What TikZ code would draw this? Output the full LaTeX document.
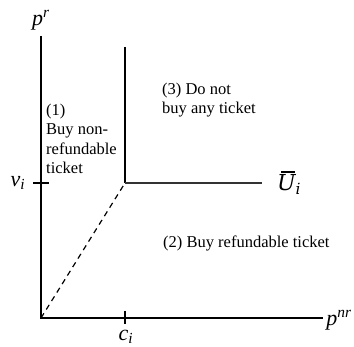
\documentclass[tikz,border=0pt]{standalone}
\usepackage{fontspec}
\setmainfont{Liberation Serif}
\newfontfamily\ufont{DejaVu Serif}
\begin{document}
\begin{tikzpicture}[x=1pt,y=-1pt,
  axis/.style={line width=1.3pt,black},
  lbl/.style={font=\fontsize{16.5}{19.3}\selectfont,inner sep=0pt},
  sym/.style={font=\fontsize{22}{24}\selectfont,inner sep=0pt}]
\useasboundingbox (0,0) rectangle (354,347);
\coordinate (O) at (41,318);
\coordinate (ytop) at (41,36);
\coordinate (xend) at (323,318);
\coordinate (K) at (125,183);
\coordinate (Ktop) at (125,47);
\coordinate (Kright) at (262,183);
\coordinate (vtl) at (33,183);
\coordinate (vtr) at (49,183);
\coordinate (ctt) at (125,311);
\coordinate (ctb) at (125,324);
\draw[axis] (ytop) -- (O) -- (xend);
\draw[axis] (vtl) -- (vtr);
\draw[axis] (ctt) -- (ctb);
\draw[axis] (Ktop) -- (K);
\draw[line width=1.5pt,black!80] (K) -- (Kright);
\draw[line width=1.2pt,dashed,dash pattern=on 5.5pt off 4.5pt] (O) -- (K);
\node[sym] (pr) at (41,20) {\textit{p}\textsuperscript{\textit{r}}};
\node[sym] (pnr) at (339,320) {\textit{p}\textsuperscript{\textit{nr}}};
\node[sym] (vi) at (18,183) {\textit{v\textsubscript{i}}};
\node[sym] (ci) at (126,337) {\textit{c\textsubscript{i}}};
\node[sym] (Ui) at (289,183) {\ufont\itshape\makebox[0pt][l]{\hspace{0.2em}\raisebox{0.8em}{\rule{0.6em}{0.07em}}}U\textsubscript{i}};
\node[lbl,anchor=north west,align=left] (r1) at (46,104) {(1)\\Buy non-\\refundable\\ticket};
\node[lbl,anchor=north west,align=left] (r3) at (162,83) {(3) Do not\\buy any ticket};
\node[lbl,anchor=base west] (r2) at (163,248) {(2) Buy refundable ticket};
\end{tikzpicture}
\end{document}
